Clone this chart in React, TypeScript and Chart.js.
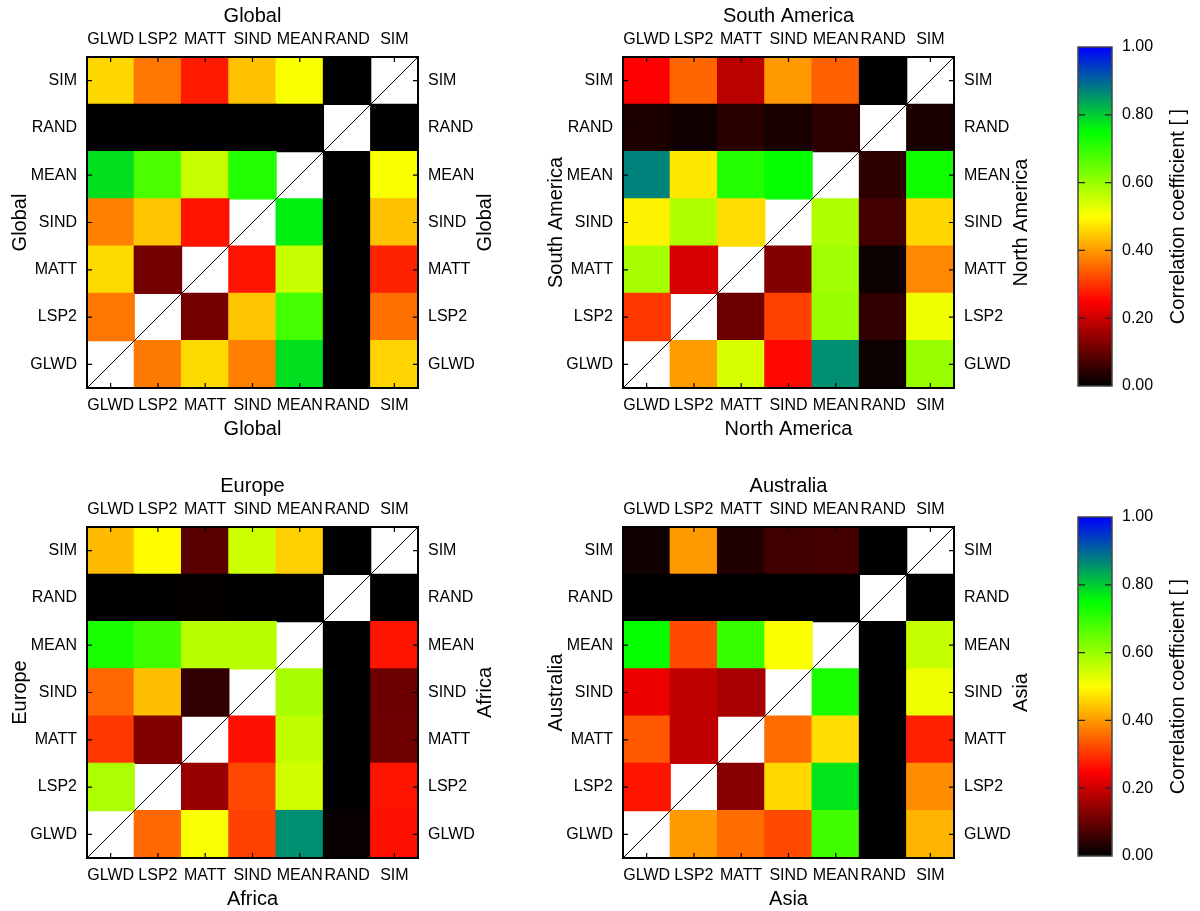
import React, { useEffect, useRef } from 'react';
import { Chart, registerables } from 'chart.js';

Chart.register(...registerables);

// ---------- data ----------
// Variable names, bottom (index 0) to top (index 6) on the y axis, left to right on x.
const variables = ['GLWD', 'LSP2', 'MATT', 'SIND', 'MEAN', 'RAND', 'SIM'];

// Correlation matrices: each row is a y variable (GLWD first), columns follow `variables`.
const globalValues: (number | null)[][] = [
  [null, 0.370, 0.464, 0.375, 0.780, 0.0, 0.458],
  [0.367, null, 0.114, 0.442, 0.683, 0.0, 0.360],
  [0.464, 0.114, null, 0.268, 0.554, 0.0, 0.283],
  [0.375, 0.442, 0.268, null, 0.765, 0.0, 0.438],
  [0.780, 0.675, 0.554, 0.717, null, 0.0, 0.505],
  [0.0, 0.0, 0.0, 0.0, 0.0, null, 0.0],
  [0.461, 0.367, 0.275, 0.438, 0.505, 0.0, null],
];

const americasValues: (number | null)[][] = [
  [null, 0.403, 0.538, 0.258, 0.860, 0.012, 0.601],
  [0.305, null, 0.106, 0.313, 0.601, 0.047, 0.515],
  [0.585, 0.212, null, 0.129, 0.593, 0.012, 0.383],
  [0.487, 0.578, 0.467, null, 0.578, 0.067, 0.460],
  [0.872, 0.477, 0.717, 0.745, null, 0.043, 0.735],
  [0.027, 0.016, 0.039, 0.024, 0.043, null, 0.024],
  [0.250, 0.350, 0.183, 0.400, 0.344, 0.0, null],
];

const europeAfricaValues: (number | null)[][] = [
  [null, 0.352, 0.507, 0.313, 0.860, 0.008, 0.266],
  [0.581, null, 0.149, 0.321, 0.546, 0.0, 0.270],
  [0.305, 0.125, null, 0.266, 0.562, 0.0, 0.110],
  [0.352, 0.436, 0.047, null, 0.585, 0.0, 0.106],
  [0.726, 0.687, 0.570, 0.570, null, 0.0, 0.270],
  [0.0, 0.0, 0.004, 0.0, 0.0, null, 0.0],
  [0.433, 0.497, 0.086, 0.550, 0.454, 0.0, null],
];

const australiaAsiaValues: (number | null)[][] = [
  [null, 0.400, 0.356, 0.321, 0.687, 0.0, 0.426],
  [0.270, null, 0.133, 0.462, 0.775, 0.0, 0.387],
  [0.336, 0.188, null, 0.356, 0.467, 0.0, 0.281],
  [0.231, 0.188, 0.165, null, 0.725, 0.0, 0.515],
  [0.745, 0.321, 0.695, 0.505, null, 0.0, 0.558],
  [0.0, 0.0, 0.0, 0.0, 0.0, null, 0.0],
  [0.016, 0.400, 0.031, 0.063, 0.067, 0.0, null],
];

// Palette (value stops and their colours) and colour bar ticks
const paletteStops = [0, 0.25, 0.5, 0.75, 1];
const paletteColors = [
  [0, 0, 0],
  [255, 0, 0],
  [255, 255, 0],
  [0, 255, 0],
  [0, 0, 255],
];
const colorbarTicks = [0, 0.2, 0.4, 0.6, 0.8, 1.0];
const colorbarLabel = 'Correlation coefficient [ ]';

// ---------- helpers ----------
const FONT = '"Liberation Sans", Arial, Helvetica, sans-serif';
const TEXT = '#000';

function colorFor(v: number): string {
  const x = Math.max(0, Math.min(1, v));
  for (let i = 0; i < paletteStops.length - 1; i++) {
    const a = paletteStops[i];
    const b = paletteStops[i + 1];
    if (x <= b) {
      const t = (x - a) / (b - a);
      const c0 = paletteColors[i];
      const c1 = paletteColors[i + 1];
      const c = c0.map((c, k) => Math.round(c + (c1[k] - c) * t));
      return `rgb(${c[0]},${c[1]},${c[2]})`;
    }
  }
  const l = paletteColors[paletteColors.length - 1];
  return `rgb(${l[0]},${l[1]},${l[2]})`;
}

const verticalTitlePlugin = {
  id: 'verticalTitle',
  afterDraw(chart: any, _args: any, opts: any) {
    if (!opts || !opts.text) return;
    const { ctx, chartArea } = chart;
    ctx.save();
    ctx.translate(opts.x, (chartArea.top + chartArea.bottom) / 2);
    ctx.rotate(-Math.PI / 2);
    ctx.font = `20px ${FONT}`;
    ctx.fillStyle = TEXT;
    ctx.textAlign = 'center';
    ctx.textBaseline = 'middle';
    ctx.fillText(opts.text, 0, 0);
    ctx.restore();
  },
};

const heatFramePlugin = {
  id: 'heatFrame',
  afterDatasetsDraw(chart: any) {
    const { ctx, chartArea } = chart;
    const { left, right, top, bottom } = chartArea;
    ctx.save();
    // diagonal through the self-correlation cells
    ctx.strokeStyle = '#000';
    ctx.lineWidth = 1;
    ctx.beginPath();
    ctx.moveTo(left, bottom);
    ctx.lineTo(right, top);
    ctx.stroke();
    // inward tick marks
    const tl = 5;
    ctx.lineWidth = 1.2;
    ctx.beginPath();
    const xs = chart.scales.x;
    xs.ticks.forEach((_: any, i: number) => {
      const p = xs.getPixelForTick(i);
      ctx.moveTo(p, bottom);
      ctx.lineTo(p, bottom - tl);
      ctx.moveTo(p, top);
      ctx.lineTo(p, top + tl);
    });
    const ys = chart.scales.y;
    ys.ticks.forEach((_: any, i: number) => {
      const p = ys.getPixelForTick(i);
      ctx.moveTo(left, p);
      ctx.lineTo(left + tl, p);
      ctx.moveTo(right, p);
      ctx.lineTo(right - tl, p);
    });
    ctx.stroke();
    // frame
    ctx.lineWidth = 2;
    ctx.strokeRect(left, top, right - left, bottom - top);
    ctx.restore();
  },
};

const tickFont = { family: FONT, size: 16 };
const titleFont = { family: FONT, size: 20 };
const noGrid = { display: false, drawTicks: false, tickLength: 0 };

const PANEL_W = 510;
const PANEL_H = 450;

function Heatmap(props: {
  left: number;
  top: number;
  values: (number | null)[][];
  topTitle: string;
  bottomTitle: string;
  leftTitle: string;
  rightTitle: string;
}) {
  const ref = useRef<HTMLCanvasElement>(null);
  useEffect(() => {
    const { values } = props;
    const datasets = values.map((row, r) => ({
      label: variables[r],
      data: row.map((v) => (v === null ? null : [r - 0.5, r + 0.5])),
      backgroundColor: row.map((v) => (v === null ? 'rgba(0,0,0,0)' : colorFor(v))),
      borderWidth: 0,
      inflateAmount: 0.6,
      barPercentage: 1,
      categoryPercentage: 1,
      grouped: false,
    }));
    const yTicks = (s: any) => {
      s.ticks = variables.map((_, i) => ({ value: i }));
    };
    const chart = new Chart(ref.current as HTMLCanvasElement, {
      type: 'bar',
      data: { labels: variables, datasets: datasets as any },
      options: {
        animation: false,
        responsive: false,
        devicePixelRatio: 1,
        events: [],
        layout: { padding: 0 },
        plugins: {
          legend: { display: false },
          tooltip: { enabled: false },
          verticalTitle: { text: props.rightTitle, x: 485 },
        } as any,
        scales: {
          x: {
            type: 'category',
            position: 'bottom',
            offset: true,
            grid: noGrid,
            border: { display: false },
            ticks: { autoSkip: false, maxRotation: 0, minRotation: 0, padding: 8, font: tickFont, color: TEXT },
            title: { display: true, text: props.bottomTitle, font: titleFont, color: TEXT, padding: { top: 0, bottom: 9 } },
            afterFit: (s: any) => { s.height = 62; },
          },
          x2: {
            type: 'category',
            position: 'top',
            labels: variables,
            offset: true,
            grid: noGrid,
            border: { display: false },
            ticks: { autoSkip: false, maxRotation: 0, minRotation: 0, padding: 8, font: tickFont, color: TEXT },
            title: { display: true, text: props.topTitle, font: titleFont, color: TEXT, padding: { top: 4, bottom: 0 } },
            afterFit: (s: any) => { s.height = 57; },
          },
          y: {
            type: 'linear',
            position: 'left',
            min: -0.5,
            max: 6.5,
            bounds: 'data',
            afterBuildTicks: yTicks,
            grid: noGrid,
            border: { display: false },
            ticks: {
              autoSkip: false,
              padding: 10,
              font: tickFont,
              color: TEXT,
              callback: (v: any) => variables[Math.round(Number(v))] ?? '',
            },
            title: { display: true, text: props.leftTitle, font: titleFont, color: TEXT, padding: { top: 8, bottom: 0 } },
            afterFit: (s: any) => { s.width = 87; },
          },
          y2: {
            type: 'linear',
            position: 'right',
            min: -0.5,
            max: 6.5,
            bounds: 'data',
            afterBuildTicks: yTicks,
            grid: noGrid,
            border: { display: false },
            ticks: {
              autoSkip: false,
              padding: 10,
              font: tickFont,
              color: TEXT,
              callback: (v: any) => variables[Math.round(Number(v))] ?? '',
            },
            afterFit: (s: any) => { s.width = 92; },
          },
        } as any,
      },
      plugins: [heatFramePlugin, verticalTitlePlugin],
    });
    return () => chart.destroy();
  }, []);
  return (
    <canvas
      ref={ref}
      width={PANEL_W}
      height={PANEL_H}
      style={{ position: 'absolute', left: props.left, top: props.top, width: PANEL_W, height: PANEL_H }}
    />
  );
}

const colorbarFramePlugin = {
  id: 'colorbarFrame',
  afterDatasetsDraw(chart: any) {
    const { ctx, chartArea } = chart;
    const { left, right, top, bottom } = chartArea;
    const ys = chart.scales.y;
    ctx.save();
    ctx.strokeStyle = '#222';
    ctx.lineWidth = 1.2;
    ctx.beginPath();
    ys.ticks.forEach((t: any, i: number) => {
      if (t.value <= 0 || t.value >= 1) return;
      const p = ys.getPixelForTick(i);
      ctx.moveTo(left, p);
      ctx.lineTo(left + 7, p);
      ctx.moveTo(right, p);
      ctx.lineTo(right - 7, p);
    });
    ctx.stroke();
    ctx.strokeStyle = '#444';
    ctx.lineWidth = 1.5;
    ctx.strokeRect(left, top, right - left, bottom - top);
    ctx.restore();
  },
};

const CB_W = 160;
const CB_H = 430;

function Colorbar(props: { left: number; top: number }) {
  const ref = useRef<HTMLCanvasElement>(null);
  useEffect(() => {
    const chart = new Chart(ref.current as HTMLCanvasElement, {
      type: 'bar',
      data: {
        labels: [''],
        datasets: [
          {
            data: [[colorbarTicks[0], colorbarTicks[colorbarTicks.length - 1]]] as any,
            backgroundColor: (c: any) => {
              const ch = c.chart;
              const ys = ch.scales.y;
              if (!ys || !ch.chartArea) return '#000';
              const g = ch.ctx.createLinearGradient(0, ys.getPixelForValue(0), 0, ys.getPixelForValue(1));
              paletteStops.forEach((s, i) => {
                const col = paletteColors[i];
                g.addColorStop(s, `rgb(${col[0]},${col[1]},${col[2]})`);
              });
              return g;
            },
            borderWidth: 0,
            barPercentage: 1,
            categoryPercentage: 1,
          } as any,
        ],
      },
      options: {
        animation: false,
        responsive: false,
        devicePixelRatio: 1,
        events: [],
        layout: { padding: { left: 38, top: 47, bottom: 44, right: 0 } },
        plugins: {
          legend: { display: false },
          tooltip: { enabled: false },
          verticalTitle: { text: colorbarLabel, x: 138 },
        } as any,
        scales: {
          x: { display: false, offset: true },
          y: {
            type: 'linear',
            position: 'right',
            min: 0,
            max: 1,
            bounds: 'data',
            afterBuildTicks: (s: any) => {
              s.ticks = colorbarTicks.map((v) => ({ value: v }));
            },
            grid: noGrid,
            border: { display: false },
            ticks: {
              autoSkip: false,
              padding: 10,
              font: tickFont,
              color: TEXT,
              callback: (v: any) => Number(v).toFixed(2),
            },
            afterFit: (s: any) => { s.width = 88; },
          },
        } as any,
      },
      plugins: [colorbarFramePlugin, verticalTitlePlugin],
    });
    return () => chart.destroy();
  }, []);
  return (
    <canvas
      ref={ref}
      width={CB_W}
      height={CB_H}
      style={{ position: 'absolute', left: props.left, top: props.top, width: CB_W, height: CB_H }}
    />
  );
}

export default function App() {
  return (
    <div
      style={{
        position: 'absolute',
        left: 0,
        top: 0,
        width: 1200,
        height: 911,
        overflow: 'hidden',
        background: '#fff',
      }}
    >
      <Heatmap left={0} top={0} values={globalValues} topTitle="Global" bottomTitle="Global" leftTitle="Global" rightTitle="Global" />
      <Heatmap left={536} top={0} values={americasValues} topTitle="South America" bottomTitle="North America" leftTitle="South America" rightTitle="North America" />
      <Heatmap left={0} top={470} values={europeAfricaValues} topTitle="Europe" bottomTitle="Africa" leftTitle="Europe" rightTitle="Africa" />
      <Heatmap left={536} top={470} values={australiaAsiaValues} topTitle="Australia" bottomTitle="Asia" leftTitle="Australia" rightTitle="Asia" />
      <Colorbar left={1040} top={0} />
      <Colorbar left={1040} top={470} />
    </div>
  );
}
